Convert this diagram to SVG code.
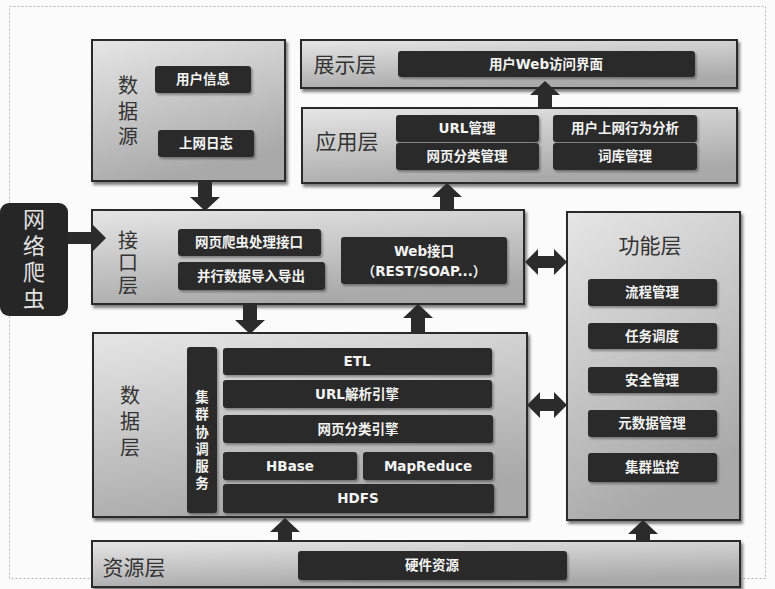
<svg xmlns="http://www.w3.org/2000/svg" width="775" height="589" viewBox="0 0 775 589">
<style>
.layer{fill:url(#lg);stroke:#2a2a2a;stroke-width:2;filter:url(#sh)}
.dk{fill:#2b2b2b;filter:url(#sh2)}
.bt{font-family:"DejaVu Sans","Noto Sans CJK SC",sans-serif;font-weight:bold;font-size:13.5px;fill:#f4f4f4;text-anchor:middle;dominant-baseline:central}
.lt{font-family:"Noto Sans CJK SC",sans-serif;font-size:21px;fill:#333;text-anchor:middle;dominant-baseline:central}
.vt{font-family:"Noto Sans CJK SC",sans-serif;font-size:20px;fill:#333;text-anchor:middle;writing-mode:vertical-rl}
.ct{font-family:"Noto Sans CJK SC",sans-serif;font-size:22px;fill:#e2e2e2;text-anchor:middle;writing-mode:vertical-rl;letter-spacing:4.7px}
.vb{font-family:"Noto Sans CJK SC",sans-serif;font-weight:bold;font-size:13.5px;fill:#f4f4f4;text-anchor:middle;writing-mode:vertical-rl;letter-spacing:3.7px}
.ar{fill:#2b2b2b}
</style>
<defs>
<linearGradient id="lg" x1="0" y1="0" x2="0.35" y2="1">
<stop offset="0" stop-color="#e6e6e6"/>
<stop offset="1" stop-color="#a9a9a9"/>
</linearGradient>
<filter id="sh" x="-5%" y="-5%" width="115%" height="120%">
<feDropShadow dx="2" dy="3" stdDeviation="1.5" flood-color="#000" flood-opacity="0.5"/>
</filter>
<filter id="sh2" x="-5%" y="-10%" width="115%" height="130%">
<feDropShadow dx="1.5" dy="2" stdDeviation="1" flood-color="#000" flood-opacity="0.35"/>
</filter>
</defs>
<rect width="775" height="589" fill="#fbfbfb"/>
<rect x="9.5" y="6.5" width="756" height="572" fill="none" stroke="#b5b5b5" stroke-dasharray="2,2"/>

<g id="n-datasource">
<rect class="layer" x="92" y="40" width="193" height="141"/>
<text class="vt" x="128" y="114" style="letter-spacing:5.5px">数据源</text>
<rect class="dk" x="155" y="66" width="96" height="27" rx="3"/>
<text class="bt" x="203" y="79">用户信息</text>
<rect class="dk" x="158" y="130" width="96" height="27" rx="3"/>
<text class="bt" x="206" y="143">上网日志</text>
</g>

<g id="n-presentation">
<rect class="layer" x="301" y="40" width="436" height="48"/>
<text class="lt" x="345" y="63">展示层</text>
<rect class="dk" x="398" y="51" width="297" height="26" rx="3"/>
<text class="bt" x="546" y="64">用户Web访问界面</text>
</g>

<g id="n-application">
<rect class="layer" x="302" y="108" width="435" height="75"/>
<text class="lt" x="347" y="140">应用层</text>
<rect class="dk" x="396" y="115" width="143" height="27" rx="3"/>
<text class="bt" x="467" y="128">URL管理</text>
<rect class="dk" x="396" y="143" width="143" height="27" rx="3"/>
<text class="bt" x="467" y="156">网页分类管理</text>
<rect class="dk" x="553" y="115" width="144" height="27" rx="3"/>
<text class="bt" x="625" y="128">用户上网行为分析</text>
<rect class="dk" x="553" y="143" width="144" height="27" rx="3"/>
<text class="bt" x="625" y="156">词库管理</text>
</g>

<g id="n-crawler">
<rect x="0" y="203" width="68" height="113" rx="9" fill="#262626"/>
<text class="ct" x="34" y="261">网络爬虫</text>
</g>

<g id="n-interface">
<rect class="layer" x="92" y="210" width="432" height="94"/>
<text class="vt" x="128" y="264" style="letter-spacing:2.5px">接口层</text>
<rect class="dk" x="178" y="229" width="143" height="27" rx="3"/>
<text class="bt" x="249" y="242">网页爬虫处理接口</text>
<rect class="dk" x="178" y="262" width="147" height="28" rx="3"/>
<text class="bt" x="251" y="276">并行数据导入导出</text>
<rect class="dk" x="341" y="237" width="166" height="47" rx="3"/>
<text class="bt" x="424" y="251">Web接口</text>
<text class="bt" x="424" y="271">（REST/SOAP...）</text>
</g>

<g id="n-data">
<rect class="layer" x="93" y="333" width="434" height="184"/>
<text class="vt" x="130" y="424" style="letter-spacing:6px">数据层</text>
<rect class="dk" x="187" y="347" width="30" height="166" rx="3"/>
<text class="vb" x="202" y="442">集群协调服务</text>
<rect class="dk" x="223" y="348" width="269" height="27" rx="3"/>
<text class="bt" x="357" y="361">ETL</text>
<rect class="dk" x="223" y="380" width="269" height="28" rx="3"/>
<text class="bt" x="357" y="394">URL解析引擎</text>
<rect class="dk" x="223" y="415" width="270" height="28" rx="3"/>
<text class="bt" x="358" y="429">网页分类引擎</text>
<rect class="dk" x="223" y="452" width="134" height="28" rx="3"/>
<text class="bt" x="290" y="466">HBase</text>
<rect class="dk" x="363" y="452" width="130" height="28" rx="3"/>
<text class="bt" x="428" y="466">MapReduce</text>
<rect class="dk" x="223" y="484" width="271" height="29" rx="3"/>
<text class="bt" x="358" y="498">HDFS</text>
</g>

<g id="n-function">
<rect class="layer" x="567" y="212" width="173" height="308"/>
<text class="lt" x="650" y="244">功能层</text>
<rect class="dk" x="588" y="279" width="129" height="27" rx="3"/>
<text class="bt" x="652" y="292">流程管理</text>
<rect class="dk" x="588" y="323" width="129" height="26" rx="3"/>
<text class="bt" x="652" y="336">任务调度</text>
<rect class="dk" x="588" y="367" width="129" height="26" rx="3"/>
<text class="bt" x="652" y="380">安全管理</text>
<rect class="dk" x="588" y="410" width="129" height="27" rx="3"/>
<text class="bt" x="652" y="423">元数据管理</text>
<rect class="dk" x="588" y="453" width="129" height="29" rx="3"/>
<text class="bt" x="652" y="467">集群监控</text>
</g>

<g id="n-resource">
<rect class="layer" x="92" y="541" width="648" height="46"/>
<text class="lt" x="134" y="566">资源层</text>
<rect class="dk" x="298" y="551" width="269" height="29" rx="3"/>
<text class="bt" x="432" y="565">硬件资源</text>
</g>

<g id="connectors">
<path class="ar" d="M198,181 H212 V197 H220 L205,211 L190,197 H198 Z"/>
<path class="ar" d="M243,305 H257 V320 H265 L250,334 L235,320 H243 Z"/>
<path class="ar" d="M411,333 H425 V318 H433 L418,304 L403,318 H411 Z"/>
<path class="ar" d="M440,210 H454 V197 H462 L447,183 L432,197 H440 Z"/>
<path class="ar" d="M538,108 H552 V95 H560 L545,81 L530,95 H538 Z"/>
<path class="ar" d="M278,541 H292 V532 H300 L285,518 L270,532 H278 Z"/>
<path class="ar" d="M636,541 H650 V534 H658 L643,520 L628,534 H636 Z"/>
<path class="ar" d="M68,232 H92 V224 L106,238 L92,252 V244 H68 Z"/>
<path class="ar" d="M525,262 L538,249 V256 H554 V249 L567,262 L554,275 V268 H538 V275 Z"/>
<path class="ar" d="M527,405 L540,392 V399 H554 V392 L567,405 L554,418 V411 H540 V418 Z"/>
</g>
</svg>
